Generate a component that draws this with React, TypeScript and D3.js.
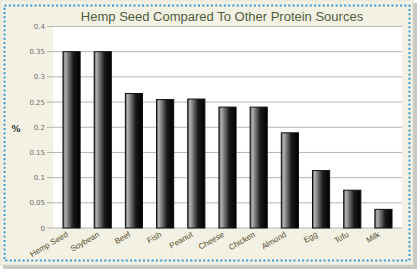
import React from 'react'
import * as d3 from 'd3'

const categories = ['Hemp Seed', 'Soybean', 'Beef', 'Fish', 'Peanut', 'Cheese', 'Chicken', 'Almond', 'Egg', 'Tofu', 'Milk']
const values = [0.35, 0.35, 0.267, 0.255, 0.256, 0.24, 0.24, 0.189, 0.114, 0.075, 0.037]
const yTicks = [0, 0.05, 0.1, 0.15, 0.2, 0.25, 0.3, 0.35, 0.4]
const title = 'Hemp Seed Compared To Other Protein Sources'

export default function App () {
  const width = 420
  const height = 272
  const plot = {left: 53, right: 402, top: 26.5, bottom: 228}

  const x = d3.scaleBand().domain(categories).range([plot.left, plot.right]).paddingInner(0.45).paddingOuter(0.32)
  const y = d3.scaleLinear().domain([0, 0.4]).range([plot.bottom, plot.top])
  const fmt = (d: number) => String(+d.toFixed(2))

  return (
    <svg width={width} height={height} style={{position: 'absolute', left: 0, top: 0}}>
      <defs>
        <linearGradient id="bar" x1="0" x2="1" y1="0" y2="0">
          <stop offset="0" stopColor="#3a3a3a" />
          <stop offset="0.12" stopColor="#b5b5b5" />
          <stop offset="0.3" stopColor="#7a7a7a" />
          <stop offset="0.6" stopColor="#1a1a1a" />
          <stop offset="1" stopColor="#000" />
        </linearGradient>
      </defs>
      <rect x={0} y={0} width={width} height={height} fill="#fff" />
      <rect x={3} y={3} width={414} height={266} fill="#c8c8c0" />
      <rect x={0} y={0} width={413} height={265} fill="#f3f1e4" stroke="#e0ddd0" />
      <rect x={4.5} y={5.5} width={405} height={255} fill="none" stroke="#3b97cc" strokeWidth={2} strokeDasharray="2 2.3" />

      <text x={222} y={21} textAnchor="middle" fontFamily="Liberation Sans" fontSize={13} fill="#4d5e3c">{title}</text>

      <rect x={plot.left} y={plot.top} width={plot.right - plot.left} height={plot.bottom - plot.top} fill="#fff" />
      {yTicks.map(t => (
        <g key={t}>
          <line x1={plot.left - 6} x2={plot.right} y1={y(t)} y2={y(t)} stroke="#b4b4b0" strokeWidth={1} />
          <text x={plot.left - 8} y={y(t) + 2.5} textAnchor="end" fontFamily="DejaVu Sans" fontSize={7} fill="#707068">{fmt(t)}</text>
        </g>
      ))}
      <text x={16} y={132} textAnchor="middle" fontFamily="DejaVu Sans" fontWeight="bold" fontSize={9} fill="#333">%</text>

      {categories.map((c, i) => (
        <rect key={c} x={x(c)} y={y(values[i])} width={x.bandwidth()} height={y(0) - y(values[i])}
          fill="url(#bar)" stroke="#111" strokeWidth={1} />
      ))}

      {categories.map(c => {
        const cx = (x(c) as number) + x.bandwidth() / 2 - 3
        return (
          <text key={c} transform={`translate(${cx},${plot.bottom + 8}) rotate(-30)`} textAnchor="end"
            fontFamily="Liberation Sans" fontSize={8} fill="#54502e">{c}</text>
        )
      })}
    </svg>
  )
}
